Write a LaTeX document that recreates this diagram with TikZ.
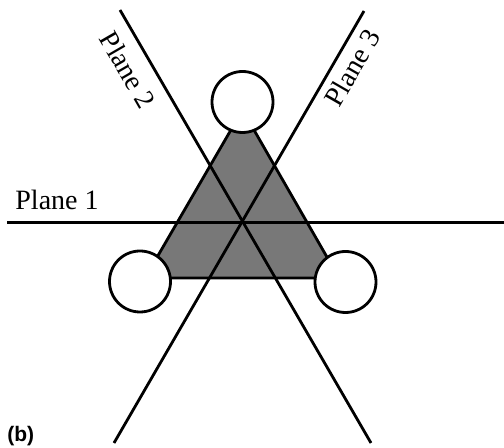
\documentclass[tikz,border=0pt]{standalone}
\usepackage{fontspec}
\setmainfont{Liberation Serif}
\newfontfamily\labfont{Liberation Sans}
\definecolor{trigray}{RGB}{120,120,120}
\begin{document}
\begin{tikzpicture}[x=0.5pt,y=-0.5pt,
  plane/.style={line width=1.4pt,line cap=butt},
  atom/.style={circle,draw=black,fill=white,line width=1.4pt,minimum size=30.5pt,inner sep=0pt},
  planelabel/.style={font=\fontsize{14}{16}\selectfont,inner sep=0pt},
  tri/.style={fill=trigray,draw=black,line width=1.4pt,line join=miter}]
\useasboundingbox (0,0) rectangle (504,448);
% triangle
\coordinate (tA) at (242.5,110);
\coordinate (tB) at (145,278);
\coordinate (tC) at (339,278);
\draw[tri] (tA) -- (tB) -- (tC) -- cycle;
% planes
\coordinate (c) at (242.5,222.5);
\coordinate (p1a) at (7,222.5);
\coordinate (p1b) at (504,222.5);
\coordinate (p2a) at (120,10);
\coordinate (p2b) at (371,443);
\coordinate (p3a) at (364,11);
\coordinate (p3b) at (114,443);
\draw[plane] (p1a) -- (p1b);
\draw[plane] (p2a) -- (p2b);
\draw[plane] (p3a) -- (p3b);
% atoms
\node[atom] (top) at (242.5,102) {};
\node[atom] (left) at (140,281.5) {};
\node[atom] (right) at (345.5,282) {};
% labels
\node[planelabel,anchor=base west] (l1) at (15,210) {Plane 1};
\node[planelabel,rotate=-60] (l2) at (128,70) {Plane 2};
\node[planelabel,rotate=60] (l3) at (352,68) {Plane 3};
\node[font=\labfont\bfseries\fontsize{10.5}{12}\selectfont,anchor=base west,inner sep=0pt] (b) at (7,442) {(b)};
\end{tikzpicture}
\end{document}
